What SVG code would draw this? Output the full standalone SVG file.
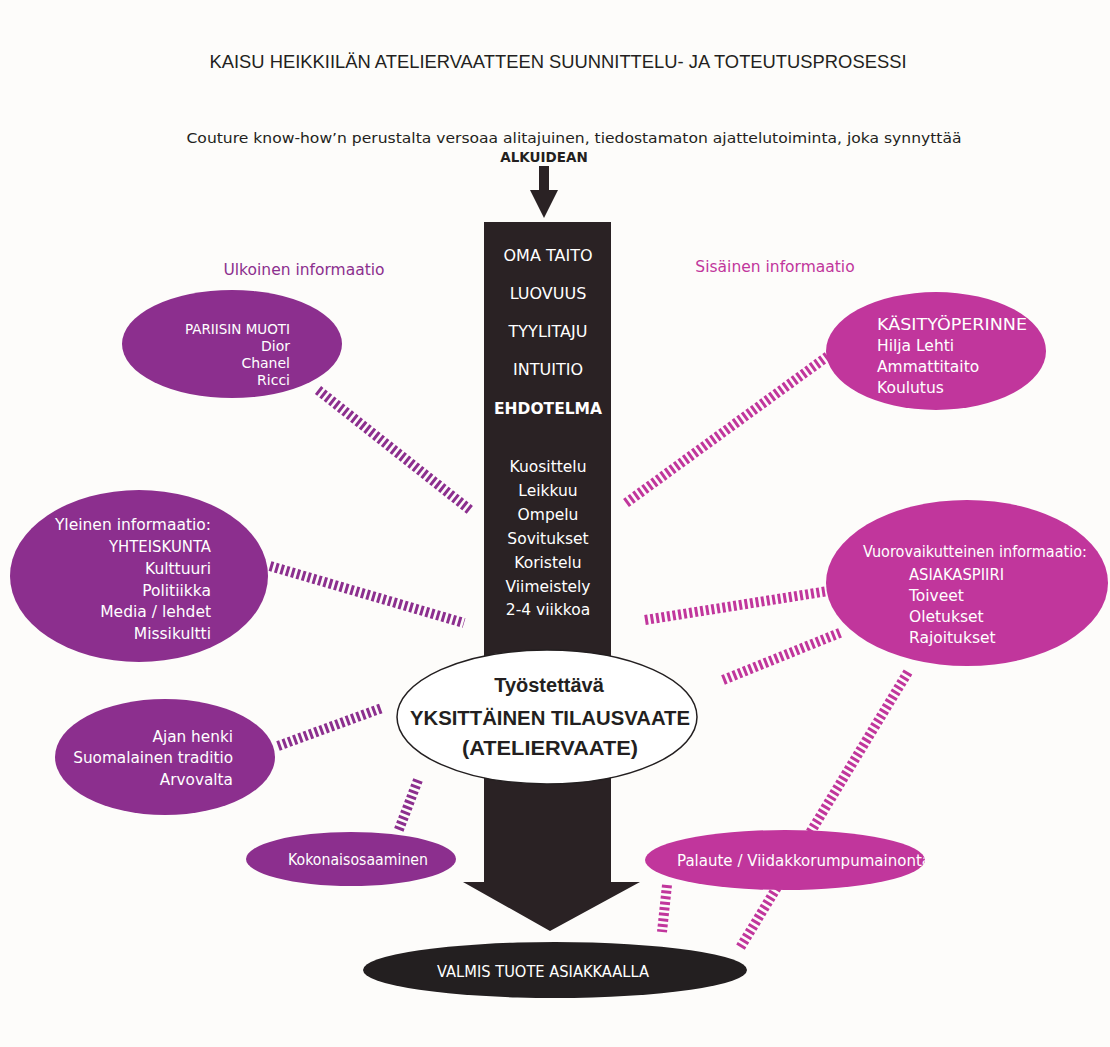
<svg xmlns="http://www.w3.org/2000/svg" width="1110" height="1047" viewBox="0 0 1110 1047">
<defs>
<style>
.t{font-family:"Liberation Sans",Arial,sans-serif;}
.d{font-family:"DejaVu Sans","Liberation Sans",sans-serif;}
.w{fill:#ffffff;}
.pu{fill:#8c2f8e;}
.mg{fill:#c1369c;}
.hp{stroke:#8c2f8e;stroke-width:10;stroke-dasharray:3 2.6;fill:none;}
.hm{stroke:#c1369c;stroke-width:10;stroke-dasharray:3 2.6;fill:none;}
.col{fill:#2a2224;}
</style>
<clipPath id="palclip"><ellipse cx="785" cy="860" rx="140" ry="30"/></clipPath>
</defs>
<rect x="0" y="0" width="1110" height="1047" fill="#fdfcfa"/>

<g id="title">
<text class="t" x="558" y="68" font-size="18.5" text-anchor="middle" fill="#231f20" textLength="697" lengthAdjust="spacingAndGlyphs">KAISU HEIKKIILÄN ATELIERVAATTEEN SUUNNITTELU- JA TOTEUTUSPROSESSI</text>
</g>
<g id="intro">
<text class="d" x="574" y="143" font-size="14.5" text-anchor="middle" fill="#231f20" textLength="775" lengthAdjust="spacingAndGlyphs">Couture know-how’n perustalta versoaa alitajuinen, tiedostamaton ajattelutoiminta, joka synnyttää</text>
<text class="d" x="544" y="162" font-size="13.5" font-weight="bold" text-anchor="middle" fill="#231f20">ALKUIDEAN</text>
</g>

<g id="connectors">
<path class="col" d="M539,166 H549 V190 H558 L544,218 L530,190 H539 Z"/>
<path class="col" d="M484,222 H611 V882 H640 L550,931 L463,882 H484 Z"/>
<line class="hp" x1="318" y1="390" x2="470" y2="510"/>
<line class="hm" x1="626" y1="503" x2="828" y2="356"/>
<line class="hp" x1="270" y1="566" x2="464" y2="623"/>
<line class="hm" x1="645" y1="620" x2="828" y2="591"/>
<line class="hm" x1="723" y1="680" x2="842" y2="632"/>
<line class="hm" x1="908" y1="672" x2="740" y2="948"/>
<line class="hm" x1="667" y1="885" x2="662" y2="932"/>
<line class="hp" x1="278" y1="746" x2="382" y2="708"/>
<line class="hp" x1="418" y1="780" x2="398" y2="832"/>
</g>

<g id="column-text" class="d w" text-anchor="middle">
<text x="548" y="261" font-size="16">OMA TAITO</text>
<text x="548" y="299" font-size="16">LUOVUUS</text>
<text x="548" y="337" font-size="16">TYYLITAJU</text>
<text x="548" y="375" font-size="16">INTUITIO</text>
<text x="548" y="414" font-size="15.5" font-weight="bold">EHDOTELMA</text>
<text x="548" y="472" font-size="15.5">Kuosittelu</text>
<text x="548" y="496" font-size="15.5">Leikkuu</text>
<text x="548" y="520" font-size="15.5">Ompelu</text>
<text x="548" y="544" font-size="15.5">Sovitukset</text>
<text x="548" y="568" font-size="15.5">Koristelu</text>
<text x="548" y="592" font-size="15.5">Viimeistely</text>
<text x="548" y="615" font-size="15.5">2-4 viikkoa</text>
</g>

<g id="label-ulkoinen">
<text class="d pu" x="304" y="275" font-size="15.5" text-anchor="middle">Ulkoinen informaatio</text>
</g>
<g id="label-sisainen">
<text class="d mg" x="775" y="272" font-size="15.5" text-anchor="middle">Sisäinen informaatio</text>
</g>

<g id="pariisin">
<ellipse class="pu" cx="232" cy="344" rx="110" ry="54"/>
<g class="d w" font-size="14" text-anchor="end">
<text x="290" y="334" font-size="14.5" textLength="105" lengthAdjust="spacingAndGlyphs">PARIISIN MUOTI</text>
<text x="290" y="351">Dior</text>
<text x="290" y="368">Chanel</text>
<text x="290" y="385">Ricci</text>
</g>
</g>

<g id="kasityo">
<ellipse class="mg" cx="936" cy="351" rx="110" ry="59"/>
<g class="d w" font-size="15.5">
<text x="877" y="330" textLength="150" lengthAdjust="spacingAndGlyphs">KÄSITYÖPERINNE</text>
<text x="877" y="351">Hilja Lehti</text>
<text x="877" y="372">Ammattitaito</text>
<text x="877" y="393">Koulutus</text>
</g>
</g>

<g id="yleinen">
<ellipse class="pu" cx="139" cy="576" rx="129" ry="86"/>
<g class="d w" font-size="15.5" text-anchor="end">
<text x="211" y="530">Yleinen informaatio:</text>
<text x="211" y="552" textLength="102" lengthAdjust="spacingAndGlyphs">YHTEISKUNTA</text>
<text x="211" y="574">Kulttuuri</text>
<text x="211" y="596">Politiikka</text>
<text x="211" y="617">Media / lehdet</text>
<text x="211" y="639">Missikultti</text>
</g>
</g>

<g id="vuorovaikutteinen">
<ellipse class="mg" cx="967" cy="583" rx="141" ry="83"/>
<g class="d w" font-size="15.5">
<text x="863" y="557" textLength="224" lengthAdjust="spacingAndGlyphs">Vuorovaikutteinen informaatio:</text>
<text x="909" y="580" textLength="95" lengthAdjust="spacingAndGlyphs">ASIAKASPIIRI</text>
<text x="909" y="601">Toiveet</text>
<text x="909" y="622">Oletukset</text>
<text x="909" y="643">Rajoitukset</text>
</g>
</g>

<g id="ajan-henki">
<ellipse class="pu" cx="165" cy="757" rx="110" ry="58"/>
<g class="d w" font-size="15.3" text-anchor="end">
<text x="233" y="742">Ajan henki</text>
<text x="233" y="763">Suomalainen traditio</text>
<text x="233" y="785">Arvovalta</text>
</g>
</g>

<g id="tyostettava">
<ellipse cx="547" cy="717" rx="150" ry="67" fill="#ffffff" stroke="#231f20" stroke-width="1.5"/>
<g class="t" fill="#231f20" font-weight="bold" text-anchor="middle">
<text x="549" y="692" font-size="20">Työstettävä</text>
<text x="550" y="725" font-size="21" textLength="280" lengthAdjust="spacingAndGlyphs">YKSITTÄINEN TILAUSVAATE</text>
<text x="550" y="755" font-size="21" textLength="176" lengthAdjust="spacingAndGlyphs">(ATELIERVAATE)</text>
</g>
</g>

<g id="kokonaisosaaminen">
<ellipse class="pu" cx="351" cy="859" rx="105" ry="27"/>
<text class="d w" x="358" y="865" font-size="15" text-anchor="middle" textLength="140" lengthAdjust="spacingAndGlyphs">Kokonaisosaaminen</text>
</g>

<g id="palaute">
<ellipse class="mg" cx="785" cy="860" rx="140" ry="30"/>
<text class="d w" x="677" y="866" font-size="15" clip-path="url(#palclip)" textLength="254" lengthAdjust="spacingAndGlyphs">Palaute / Viidakkorumpumainonta</text>
</g>

<g id="valmis">
<ellipse cx="555" cy="970" rx="192" ry="28" fill="#231f20"/>
<text class="d w" x="543" y="977" font-size="15" text-anchor="middle" textLength="212" lengthAdjust="spacingAndGlyphs">VALMIS TUOTE ASIAKKAALLA</text>
</g>
</svg>
